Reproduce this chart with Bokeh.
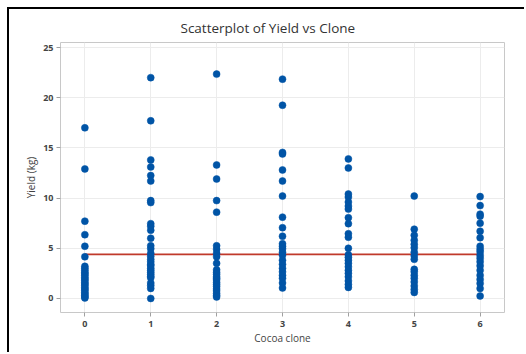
from bokeh.plotting import figure
from bokeh.models import FixedTicker, Range1d
from bokeh.embed import file_html
from bokeh.resources import INLINE

clones = [0, 1, 2, 3, 4, 5, 6]
yield_0 = [17.0, 12.9, 7.7, 6.35, 5.2, 4.15, 3.2, 3.0, 2.8, 2.6, 2.45, 2.3, 2.1, 1.95, 1.8,
           1.6, 1.45, 1.3, 1.1, 0.95, 0.8, 0.6, 0.45, 0.3, 0.15, 0.05]
yield_1 = [22.0, 17.7, 13.8, 13.1, 12.25, 11.7, 9.75, 9.55, 7.45, 7.2, 6.8, 6.0, 5.25, 4.95,
           4.5, 4.2, 3.9, 3.65, 3.4, 3.25, 3.0, 2.8, 2.6, 2.4, 2.2, 2.05, 1.55, 1.3, 1.0, 0.0]
yield_2 = [22.35, 13.3, 11.9, 9.75, 8.6, 5.25, 4.9, 4.5, 4.15, 3.5, 2.85, 2.6, 2.4, 2.15,
           2.0, 1.85, 1.6, 1.4, 1.2, 0.95, 0.75, 0.5, 0.3, 0.15]
yield_3 = [21.85, 19.25, 14.55, 14.4, 12.8, 11.7, 10.2, 8.1, 7.05, 6.2, 5.45, 5.2, 4.95, 4.6,
           4.3, 3.8, 3.4, 3.0, 2.65, 2.3, 2.0, 1.55, 1.05]
yield_4 = [13.9, 13.0, 10.4, 10.1, 9.6, 9.2, 8.9, 8.05, 7.45, 6.45, 6.1, 5.0, 4.35, 4.1, 3.8,
           3.5, 3.15, 2.8, 2.5, 2.15, 1.75, 1.4, 1.1]
yield_5 = [10.2, 6.9, 6.3, 5.8, 5.4, 5.05, 4.6, 4.25, 3.9, 2.9, 2.65, 2.3, 2.0, 1.65, 1.25,
           0.9, 0.6]
yield_6 = [10.15, 9.25, 8.4, 8.2, 7.5, 6.7, 6.05, 5.2, 4.9, 4.65, 4.3, 4.0, 3.65, 3.25, 2.8,
           2.3, 1.9, 1.5, 1.0, 0.25]
mean_yield = 4.4
y_ticks = [0, 5, 10, 15, 20, 25]

series = [yield_0, yield_1, yield_2, yield_3, yield_4, yield_5, yield_6]
xs, ys = [], []
for c, vals in zip(clones, series):
    xs += [c] * len(vals)
    ys += vals

OFF = 9  # canvas offset inside the black border
W, H = 526 - OFF, 354 - OFF
p = figure(width=W, height=H, output_backend="svg", toolbar_location=None,
           x_range=Range1d(-0.37, 6.37), y_range=Range1d(-1.4, 25.5),
           min_border_left=60 - OFF, min_border_right=22, min_border_top=42 - OFF,
           min_border_bottom=42)
p.styles = {"margin-left": "7px", "margin-top": "7px", "vertical-align": "top",
            "border-left": "2px solid black", "border-top": "2px solid black"}
p.background_fill_color = "white"
p.border_fill_color = "white"
p.outline_line_color = "#c8c8c8"
p.outline_line_width = 1

font = "Open Sans"
p.title.text = "Scatterplot of Yield vs Clone"
p.title.align = "left"
p.title.offset = 120
p.title.text_font = font
p.title.text_font_size = "13.5px"
p.title.text_font_style = "normal"
p.title.text_color = "#333333"
p.title.standoff = 12

for ax in (p.xaxis[0], p.yaxis[0]):
    ax.axis_line_color = None
    ax.major_tick_line_color = "#a0a0a0"
    ax.minor_tick_line_color = None
    ax.major_tick_out = 4
    ax.major_tick_in = 0
    ax.major_label_text_font = font
    ax.major_label_text_font_size = "9px"
    ax.major_label_text_color = "#444444"
    ax.major_label_text_font_style = "bold"
    ax.axis_label_text_font = font
    ax.axis_label_text_font_size = "10px"
    ax.axis_label_text_font_style = "normal"
    ax.axis_label_text_color = "#444444"

p.xaxis.ticker = FixedTicker(ticks=clones)
p.yaxis.ticker = FixedTicker(ticks=y_ticks)
p.xaxis.axis_label = "Cocoa clone"
p.yaxis.axis_label = "Yield (kg)"
p.xaxis.major_label_standoff = 4
p.yaxis.major_label_standoff = 3
p.xaxis.axis_label_standoff = 1
p.yaxis.axis_label_standoff = 2

p.xgrid.grid_line_color = "#ececec"
p.ygrid.grid_line_color = "#ececec"

p.line([clones[0], clones[-1]], [mean_yield, mean_yield], line_color="#c0392b", line_width=1.8)
p.scatter(xs, ys, size=7, fill_color="#0054a6", line_color="#0054a6", line_width=0.5)

open("out.html", "w").write(file_html(p, INLINE))
